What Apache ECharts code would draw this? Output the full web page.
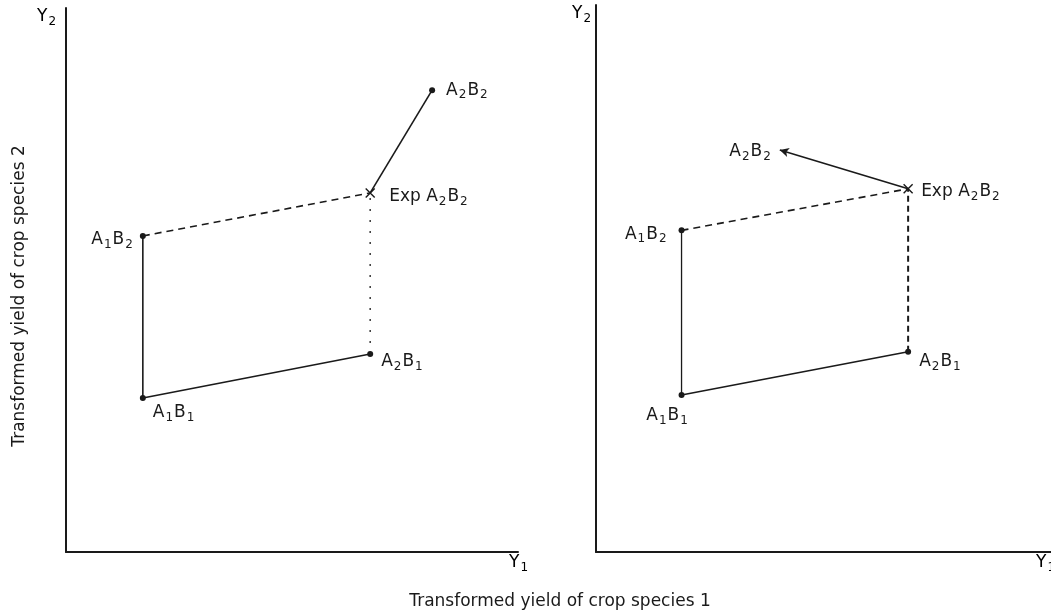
<!DOCTYPE html>
<html>
<head>
<meta charset="utf-8">
<style>
  html, body { margin: 0; padding: 0; background: #ffffff; }
  #chart { width: 1051px; height: 614px; }
</style>
<script src="https://cdn.jsdelivr.net/npm/echarts@6/dist/echarts.min.js"></script>
</head>
<body>
<div id="chart"></div>
<script>
// Treatment combinations plotted in each panel (same order in every array).
// Rich-text markup: {n|...} normal glyphs, {s|...} subscripts.
const pointNames = [
  '{n|A}{s|1}{n|B}{s|1}',
  '{n|A}{s|1}{n|B}{s|2}',
  '{n|A}{s|2}{n|B}{s|1}',
  '{n|Exp A}{s|2}{n|B}{s|2}',
  '{n|A}{s|2}{n|B}{s|2}'
];

// Left panel: transformed yields (species 1 on x, species 2 on y)
const leftX = [17.0, 17.0, 67.3, 67.3, 81.0];
const leftY = [28.3, 58.1, 36.4, 66.0, 84.9];

// Right panel
const rightX = [18.8, 18.8, 68.6, 68.6, 40.4];
const rightY = [28.7, 58.8, 36.6, 66.4, 73.5];

// Axis titles
const xTitle = 'Transformed yield of crop species 1';
const yTitle = 'Transformed yield of crop species 2';
const yEndLabel = '{n|Y}{s|2}';
const xEndLabel = '{n|Y}{s|1}';

const FONT = "'DejaVu Sans', 'Liberation Sans', Arial, sans-serif";
const INK = '#1a1a1a';

const RICH = {
  n: { fontFamily: FONT, fontSize: 17, lineHeight: 22, color: INK },
  s: { fontFamily: FONT, fontSize: 12, lineHeight: 12, color: INK, verticalAlign: 'bottom', padding: [0, 1, 0, 1] }
};

const chart = echarts.init(document.getElementById('chart'), null, { renderer: 'canvas' });

function pt(xs, ys, i) { return [xs[i], ys[i]]; }

function axisPair(gridIndex) {
  const common = {
    gridIndex: gridIndex,
    type: 'value',
    min: 0,
    max: 100,
    axisTick: { show: false },
    axisLabel: { show: false },
    splitLine: { show: false },
    axisLine: { show: true, onZero: false, lineStyle: { color: INK, width: 2 } }
  };
  return {
    x: Object.assign({}, common),
    y: Object.assign({}, common)
  };
}

const ax0 = axisPair(0);
const ax1 = axisPair(1);

// a straight line between two points of one panel
function segment(panel, xs, ys, a, b, style) {
  return {
    type: 'line',
    xAxisIndex: panel,
    yAxisIndex: panel,
    data: [pt(xs, ys, a), pt(xs, ys, b)],
    symbol: 'none',
    silent: true,
    clip: false,
    lineStyle: Object.assign({ color: INK, width: 1.6 }, style),
    z: 2
  };
}

const solid = { type: 'solid' };
const dashed = { type: [7, 5], width: 1.6 };
const dotted = { type: [2, 9], width: 1.6, color: '#444' };

// label layout for each point, per panel
const leftLabels = [
  { position: 'right', offset: [2, 15] },
  { position: 'left', offset: [-1, 4] },
  { position: 'right', offset: [3, 8] },
  { position: 'right', offset: [7, 4] },
  { position: 'right', offset: [6, 0] }
];
const rightLabels = [
  { position: 'bottom', offset: [-14, 2] },
  { position: 'left', offset: [-6, 4] },
  { position: 'right', offset: [3, 10] },
  { position: 'right', offset: [1, 3] },
  { position: 'left', offset: [-3, 2] }
];

const labelBase = { show: true, distance: 5, color: INK, opacity: 1, rich: RICH };

function labelFor(i, layout) {
  return Object.assign({}, labelBase, { formatter: pointNames[i] }, layout[i]);
}

function pointSeries(panel, xs, ys, layout, dotIdx, arrowEnd) {
  const series = [{
    type: 'scatter',
    xAxisIndex: panel,
    yAxisIndex: panel,
    symbol: 'circle',
    symbolSize: 6,
    clip: false,
    itemStyle: { color: INK, opacity: 1 },
    data: dotIdx.map(function (i) {
      return { value: pt(xs, ys, i), label: labelFor(i, layout) };
    }),
    z: 4
  }, {
    // expected value marked with a cross
    type: 'scatter',
    xAxisIndex: panel,
    yAxisIndex: panel,
    symbol: 'path://M0,0L10,10M10,0L0,10',
    symbolSize: 9,
    clip: false,
    itemStyle: { color: 'none', borderColor: INK, borderWidth: 1.4, opacity: 1 },
    data: [{ value: pt(xs, ys, 3), label: labelFor(3, layout) }],
    z: 4
  }];
  if (arrowEnd) {
    // observed point shown by the arrow head, so only its label here
    series.push({
      type: 'scatter',
      xAxisIndex: panel,
      yAxisIndex: panel,
      symbolSize: 0,
      clip: false,
      itemStyle: { opacity: 1 },
      data: [{ value: pt(xs, ys, 4), label: labelFor(4, layout) }]
    });
  }
  return series;
}

const series = [
  // left panel
  segment(0, leftX, leftY, 0, 1, solid),
  segment(0, leftX, leftY, 0, 2, solid),
  segment(0, leftX, leftY, 1, 3, dashed),
  segment(0, leftX, leftY, 2, 3, dotted),
  segment(0, leftX, leftY, 3, 4, solid),
  // right panel
  segment(1, rightX, rightY, 0, 1, { width: 1.3 }),
  segment(1, rightX, rightY, 0, 2, solid),
  segment(1, rightX, rightY, 1, 3, dashed),
  segment(1, rightX, rightY, 2, 3, { type: [6, 4], width: 2 }),
  {
    // deviation of the observed value from the expected one, with arrow head
    type: 'line',
    xAxisIndex: 1,
    yAxisIndex: 1,
    data: [],
    markLine: {
      silent: true,
      symbol: ['none', 'arrow'],
      symbolSize: [7, 9],
      label: { show: false },
      lineStyle: { color: INK, width: 1.6, type: 'solid' },
      data: [[{ coord: pt(rightX, rightY, 3) }, { coord: pt(rightX, rightY, 4) }]]
    }
  }
].concat(
  pointSeries(0, leftX, leftY, leftLabels, [0, 1, 2, 4], false),
  pointSeries(1, rightX, rightY, rightLabels, [0, 1, 2], true)
);

function richText(text, left, top) {
  return { type: 'text', left: left, top: top, style: { text: text, rich: RICH } };
}

const titleStyle = { fill: INK, font: '17px ' + FONT, align: 'center', verticalAlign: 'middle' };

chart.setOption({
  animation: false,
  backgroundColor: '#ffffff',
  grid: [
    { left: 66, top: 8, width: 452, height: 544 },
    { left: 596, top: 5, width: 455, height: 547 }
  ],
  xAxis: [ax0.x, ax1.x],
  yAxis: [ax0.y, ax1.y],
  series: series,
  graphic: [
    richText(yEndLabel, 37, 8),
    richText(xEndLabel, 509, 554),
    richText(yEndLabel, 572, 5),
    richText(xEndLabel, 1036, 554),
    { type: 'text', x: 560, y: 602, style: Object.assign({ text: xTitle }, titleStyle) },
    { type: 'text', x: 20, y: 296, rotation: Math.PI / 2, style: Object.assign({ text: yTitle }, titleStyle) }
  ]
});
</script>
</body>
</html>
